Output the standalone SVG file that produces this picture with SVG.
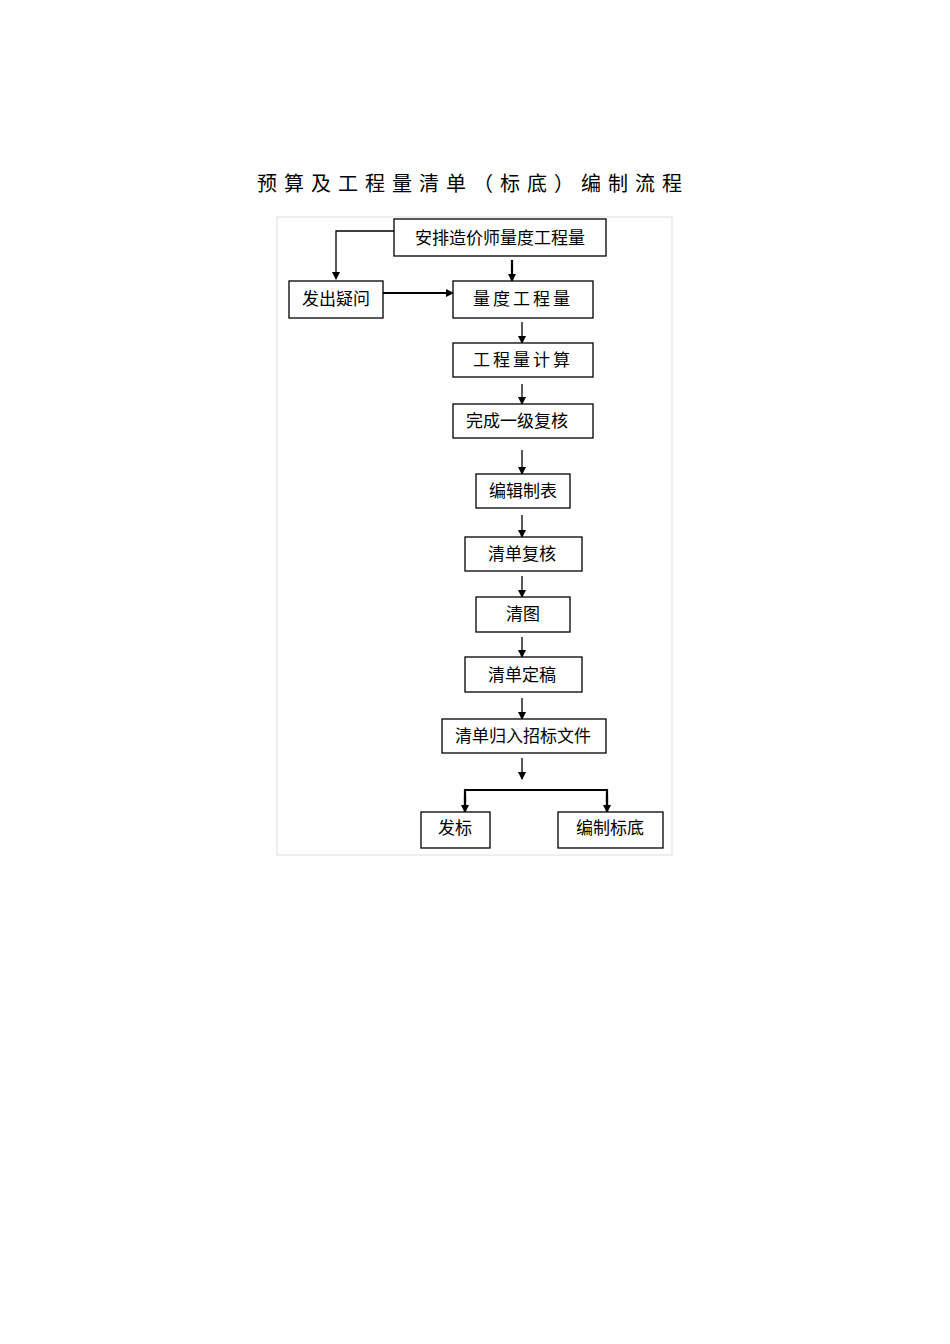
<svg xmlns="http://www.w3.org/2000/svg" width="950" height="1344" viewBox="0 0 950 1344">
<style>
.b{fill:#fff;stroke:#000;stroke-width:1.3}
.t{font-family:"Liberation Sans","Noto Sans CJK SC",sans-serif;font-size:17px;fill:#000;text-anchor:middle}
.c{fill:none;stroke:#000;stroke-width:1.3}
.k{stroke-width:2.2}
</style>
<defs><marker id="a" markerWidth="8" markerHeight="8" refX="7" refY="4" orient="auto" markerUnits="userSpaceOnUse"><path d="M0,0L8,4L0,8z" fill="#000"/></marker></defs>
<rect width="950" height="1344" fill="#fff"/>
<text x="473" y="191" font-family="'Liberation Serif','Noto Sans CJK SC',serif" font-size="20" letter-spacing="7" text-anchor="middle">预算及工程量清单（标底）编制流程</text>
<rect x="277" y="217" width="395" height="638" fill="none" stroke="#ddd"/>
<g id="connectors">
<path class="c" d="M394,231H336V279" marker-end="url(#a)"/>
<path class="c k" d="M512,260V281" marker-end="url(#a)"/>
<path class="c k" d="M383,293H453" marker-end="url(#a)"/>
<path class="c" d="M522,322V343" marker-end="url(#a)"/>
<path class="c" d="M522,384V404" marker-end="url(#a)"/>
<path class="c" d="M522,450V474" marker-end="url(#a)"/>
<path class="c" d="M522,515V537" marker-end="url(#a)"/>
<path class="c" d="M522,576V597" marker-end="url(#a)"/>
<path class="c" d="M522,637V657" marker-end="url(#a)"/>
<path class="c" d="M522,698V719" marker-end="url(#a)"/>
<path class="c" d="M522,758V779" marker-end="url(#a)"/>
<path class="c k" d="M465,812V790H607V812" />
<path class="c k" d="M465,795V812" marker-end="url(#a)"/>
<path class="c k" d="M607,795V812" marker-end="url(#a)"/>
</g>
<g id="n1"><rect class="b" x="394" y="219" width="212" height="37"/><text class="t" x="500" y="244">安排造价师量度工程量</text></g>
<g id="n2"><rect class="b" x="289" y="281" width="94" height="37"/><text class="t" x="336" y="305">发出疑问</text></g>
<g id="n3"><rect class="b" x="453" y="281" width="140" height="37"/><text class="t" x="523" y="305" letter-spacing="3">量度工程量</text></g>
<g id="n4"><rect class="b" x="453" y="343" width="140" height="34"/><text class="t" x="523" y="366" letter-spacing="3">工程量计算</text></g>
<g id="n5"><rect class="b" x="453" y="404" width="140" height="34"/><text class="t" x="517" y="427">完成一级复核</text></g>
<g id="n6"><rect class="b" x="476" y="474" width="94" height="34"/><text class="t" x="523" y="497">编辑制表</text></g>
<g id="n7"><rect class="b" x="465" y="537" width="117" height="34"/><text class="t" x="522" y="560">清单复核</text></g>
<g id="n8"><rect class="b" x="476" y="597" width="94" height="35"/><text class="t" x="523" y="620">清图</text></g>
<g id="n9"><rect class="b" x="465" y="657" width="117" height="35"/><text class="t" x="522" y="681">清单定稿</text></g>
<g id="n10"><rect class="b" x="442" y="719" width="164" height="34"/><text class="t" x="523" y="742">清单归入招标文件</text></g>
<g id="n11"><rect class="b" x="421" y="812" width="69" height="36"/><text class="t" x="455" y="834">发标</text></g>
<g id="n12"><rect class="b" x="558" y="812" width="105" height="36"/><text class="t" x="610" y="834">编制标底</text></g>
</svg>
